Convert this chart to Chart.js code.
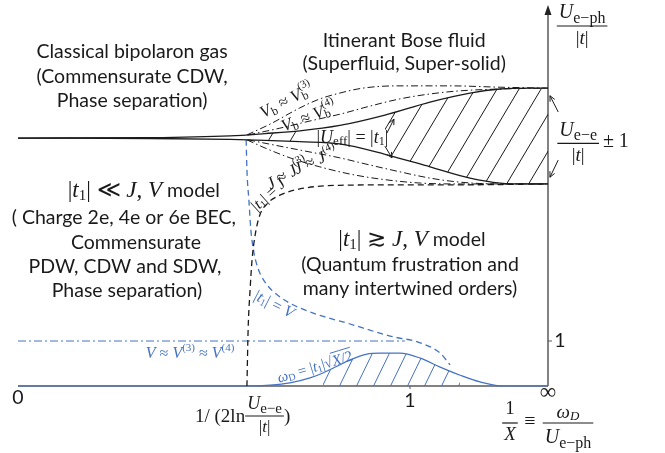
<!DOCTYPE html>
<html>
<head>
<meta charset="utf-8">
<script src="https://cdn.jsdelivr.net/npm/chart.js@4.4.1/dist/chart.umd.min.js"></script>
<style>html,body{margin:0;padding:0;background:#fff}canvas{display:block}</style>
</head>
<body>
<canvas id="c" width="665" height="453"></canvas>
<script>
// x = 1/X (0 .. "infinity"), y = U_e-ph/|t|
var xMax = 1.352
var yMax = 8.467

// solid pair bounding the |U_eff| = |t1| band
var bandX = [0, 0.337, 0.541, 0.630, 0.719, 0.821, 0.936, 1.051, 1.153, 1.230, 1.306, 1.352]
var bandUpper = [5.51, 5.52, 5.56, 5.61, 5.67, 5.79, 6.02, 6.31, 6.51, 6.60, 6.62, 6.62]
var bandLower = [5.51, 5.50, 5.48, 5.46, 5.43, 5.38, 5.15, 4.87, 4.62, 4.51, 4.49, 4.49]
var bandHatch = [[0.630, 0.719], [0.936, 1.352]]

// dash-dot lines
var vb3X = [0.584, 0.643, 0.719, 0.770, 0.821, 0.880, 0.967, 1.102, 1.230, 1.352]
var vb3Y = [5.58, 5.82, 6.18, 6.38, 6.51, 6.62, 6.67, 6.67, 6.64, 6.62]
var vb4X = [0.587, 0.668, 0.745, 0.821, 0.898, 0.974, 1.051, 1.128, 1.230, 1.352]
var vb4Y = [5.58, 5.73, 5.89, 6.04, 6.22, 6.38, 6.49, 6.56, 6.60, 6.62]
var j4X = [0.587, 0.668, 0.745, 0.821, 0.898, 0.974, 1.051, 1.128, 1.230, 1.352]
var j4Y = [5.47, 5.33, 5.20, 5.07, 4.91, 4.76, 4.62, 4.53, 4.49, 4.49]
var j3X = [0.584, 0.630, 0.694, 0.770, 0.847, 0.923, 1.026, 1.128, 1.352]
var j3Y = [5.47, 5.29, 5.07, 4.87, 4.71, 4.60, 4.51, 4.49, 4.49]

// |t1| = J (black dashed)
var tJX = [0.584, 0.587, 0.592, 0.597, 0.605, 0.617, 0.638, 0.668, 0.719, 0.821, 0.974, 1.102, 1.352]
var tJY = [0, 1.24, 2.13, 2.80, 3.36, 3.80, 4.07, 4.24, 4.38, 4.46, 4.47, 4.47, 4.49]

// |t1| = V (blue dashed)
var tVX = [0.582, 0.584, 0.589, 0.594, 0.602, 0.612, 0.630, 0.668, 0.753, 0.839, 0.949, 1.026, 1.077, 1.102]
var tVY = [5.47, 4.80, 4.13, 3.47, 2.96, 2.62, 2.31, 1.98, 1.62, 1.40, 1.11, 0.96, 0.73, 0.47]

// V ~ V(3) ~ V(4) (blue dash-dot)
var vvX = [0, 0.987]
var vvY = [1, 1]

// omega_D = |t1| sqrt(X/2) (blue solid)
var wX = [0, 0.584, 0.643, 0.694, 0.745, 0.778, 0.814, 0.847, 0.890, 0.923, 0.974, 1.026, 1.077, 1.128, 1.179, 1.237, 1.352]
var wY = [0, 0, 0.02, 0.07, 0.18, 0.29, 0.44, 0.58, 0.71, 0.73, 0.73, 0.62, 0.42, 0.24, 0.09, 0, 0]
var wHatch = [0.778, 1.128]

var xTicks = [0, 0.587, 1, xMax]
var xTickText = ['0', '', '1', '\u221e']
var yTicks = [1]

var regionText = [
  ['Classical bipolaron gas', 0.291, 7.42],
  ['(Commensurate CDW,', 0.291, 6.87],
  ['Phase separation)', 0.291, 6.33],
  ['Itinerant Bose fluid', 0.985, 7.67],
  ['(Superfluid, Super-solid)', 0.985, 7.16],
  ['( Charge 2e, 4e or 6e BEC,', 0.270, 3.73],
  ['Commensurate', 0.301, 3.18],
  ['PDW, CDW and SDW,', 0.273, 2.64],
  ['Phase separation)', 0.278, 2.11],
  ['(Quantum frustration and', 1.000, 2.69],
  ['many intertwined orders)', 1.000, 2.16]
]

;(function () {
  'use strict'

  var SANS = 'Lato, "Open Sans", sans-serif'
  var SERIF = '"Liberation Serif", "DejaVu Serif", serif'
  var BLACK = '#1a1a1a'
  var BLUE = '#4472c4'
  var AXIS = '#595959'
  var NONE = 'rgba(0,0,0,0)'

  function pts (xs, ys) {
    return xs.map(function (x, i) { return { x: x, y: ys[i] } })
  }

  function hatch (ctx, color, w, h) {
    var c = document.createElement('canvas')
    c.width = w
    c.height = h
    var g = c.getContext('2d')
    g.strokeStyle = color
    g.lineWidth = 1
    g.beginPath()
    ;[-w, 0, w].forEach(function (o) { g.moveTo(o, h); g.lineTo(o + w, 0) })
    g.stroke()
    return ctx.createPattern(c, 'repeat')
  }

  var ctx = document.getElementById('c').getContext('2d')
  var blackHatch = hatch(ctx, BLACK, 22, 37)
  var blueHatch = hatch(ctx, BLUE, 17, 35)

  function curve (xs, ys, color, dash, extra) {
    return Object.assign({
      data: pts(xs, ys),
      borderColor: color,
      borderWidth: 1.3,
      borderDash: dash || [],
      pointRadius: 0,
      fill: false,
      cubicInterpolationMode: 'monotone',
      clip: 6
    }, extra || {})
  }

  var dashDot = [7, 3, 1.5, 3]

  // text helpers
  function R (t, size, o) {
    o = o || {}
    return { t: t, s: size, f: (o.i ? 'italic ' : '') + size + 'px ' + (o.sans ? SANS : SERIF), dy: o.dy || 0, stay: !!o.stay, over: !!o.over }
  }
  function runsWidth (c, runs) {
    var w = 0
    runs.forEach(function (r) { c.font = r.f; if (!r.stay) w += c.measureText(r.t).width })
    return w
  }
  function drawRuns (c, runs, x, y, o) {
    o = o || {}
    c.save()
    c.translate(x, y)
    if (o.rot) c.rotate(o.rot * Math.PI / 180)
    c.fillStyle = o.color || BLACK
    c.strokeStyle = o.color || BLACK
    c.textBaseline = 'middle'
    var w = runsWidth(c, runs)
    var cx = o.align === 'left' ? 0 : -w / 2
    runs.forEach(function (r) {
      c.font = r.f
      var rw = c.measureText(r.t).width
      c.fillText(r.t, cx, r.dy)
      if (r.over) {
        c.lineWidth = 0.9
        c.beginPath()
        c.moveTo(cx, r.dy - r.s * 0.62)
        c.lineTo(cx + rw, r.dy - r.s * 0.62)
        c.stroke()
      }
      if (!r.stay) cx += rw
    })
    c.restore()
    return w
  }
  function drawFrac (c, num, den, x, y, up, down, color) {
    var w = Math.max(runsWidth(c, num), runsWidth(c, den)) + 4
    drawRuns(c, num, x, y - up, { color: color })
    drawRuns(c, den, x, y + down, { color: color })
    c.save()
    c.strokeStyle = color || BLACK
    c.lineWidth = 1.2
    c.beginPath()
    c.moveTo(x - w / 2, y)
    c.lineTo(x + w / 2, y)
    c.stroke()
    c.restore()
    return w
  }
  function arrow (c, x1, y1, x2, y2, color) {
    var a = Math.atan2(y2 - y1, x2 - x1)
    var L = 6
    c.save()
    c.strokeStyle = color || BLACK
    c.lineWidth = 1
    c.beginPath()
    c.moveTo(x1, y1)
    c.lineTo(x2, y2)
    c.moveTo(x2 - L * Math.cos(a - 0.45), y2 - L * Math.sin(a - 0.45))
    c.lineTo(x2, y2)
    c.lineTo(x2 - L * Math.cos(a + 0.45), y2 - L * Math.sin(a + 0.45))
    c.stroke()
    c.restore()
  }

  function absT1 (size, sub) {
    return [R('|', size), R('t', size, { i: 1 }), R('1', sub, { dy: size * 0.22 }), R('|', size)]
  }
  function U (size, sub, text) {
    return [R('U', size, { i: 1 }), R(text, sub, { dy: size * 0.27 })]
  }
  function T (size) {
    return [R('|', size), R('t', size, { i: 1 }), R('|', size)]
  }

  var annotate = {
    id: 'annotate',
    beforeDraw: function (chart) {
      var c = chart.ctx
      c.save()
      c.fillStyle = '#fff'
      c.fillRect(0, 0, chart.width, chart.height)
      c.restore()
    },
    beforeDatasetsDraw: function (chart) {
      var c = chart.ctx
      var xs = chart.scales.x
      var ys = chart.scales.y
      var a = chart.chartArea
      var x0 = xs.getPixelForValue(0)
      var x1 = xs.getPixelForValue(xMax)
      var y0 = ys.getPixelForValue(0)
      c.save()
      c.strokeStyle = AXIS
      c.lineWidth = 1.5
      c.beginPath()
      c.moveTo(x0, y0)
      c.lineTo(x1, y0)
      c.moveTo(x1, y0)
      c.lineTo(x1, a.top + 8)
      c.stroke()
      c.fillStyle = '#222'
      c.beginPath()
      c.moveTo(x1, a.top)
      c.lineTo(x1 - 3.5, a.top + 10)
      c.lineTo(x1 + 3.5, a.top + 10)
      c.closePath()
      c.fill()
      // ticks
      c.lineWidth = 1
      c.beginPath()
      c.moveTo(xs.getPixelForValue(xTicks[2]), y0)
      c.lineTo(xs.getPixelForValue(xTicks[2]), y0 + 3)
      yTicks.forEach(function (v) {
        c.moveTo(x1, ys.getPixelForValue(v))
        c.lineTo(x1 + 4, ys.getPixelForValue(v))
      })
      c.stroke()
      c.restore()
    },
    afterDatasetsDraw: function (chart) {
      var c = chart.ctx
      var xs = chart.scales.x
      var ys = chart.scales.y
      function X (v) { return xs.getPixelForValue(v) }
      function Y (v) { return ys.getPixelForValue(v) }
      var bottom = Y(0)

      regionText.forEach(function (r) {
        drawRuns(c, [R(r[0], 19.5, { sans: 1 })], X(r[1]), Y(r[2]))
      })

      // model headings
      drawRuns(c, absT1(23, 15).concat([R(' \u226a ', 23), R('J', 23, { i: 1 }), R(', ', 23), R('V', 23, { i: 1 }), R(' model', 19.5, { sans: 1 })]), X(0.321), Y(4.33))
      drawRuns(c, absT1(23, 15).concat([R(' \u2273 ', 23), R('J', 23, { i: 1 }), R(', ', 23), R('V', 23, { i: 1 }), R(' model', 19.5, { sans: 1 })]), X(1.005), Y(3.24))

      // curve labels
      drawRuns(c, [R('V', 17, { i: 1 }), R('b', 12, { dy: 4 }), R(' \u2248 ', 17), R('V', 17, { i: 1 }), R('b', 12, { dy: 4, stay: 1 }), R('(3)', 11, { dy: -7 })], X(0.686), Y(6.33), { rot: -27 })
      drawRuns(c, [R('V', 17, { i: 1 }), R('b', 12, { dy: 4 }), R(' \u2248 ', 17), R('V', 17, { i: 1 }), R('b', 12, { dy: 4, stay: 1 }), R('(4)', 11, { dy: -7 })], X(0.742), Y(5.97), { rot: -21 })
      drawRuns(c, [R('|', 18), R('U', 18, { i: 1 }), R('eff', 13, { dy: 4 }), R('| = ', 18)].concat(absT1(18, 12)), X(0.853), Y(5.51))
      drawRuns(c, [R('J', 17, { i: 1 }), R(' \u2248 ', 17), R('J', 17, { i: 1 }), R('(4)', 11, { dy: -7 })], X(0.760), Y(5.00), { rot: -24 })
      drawRuns(c, [R('J', 17, { i: 1 }), R(' \u2248 ', 17), R('J', 17, { i: 1 }), R('(3)', 11, { dy: -7 })], X(0.688), Y(4.70), { rot: -30 })
      drawRuns(c, absT1(16, 10).concat([R(' = ', 16), R('J', 16, { i: 1 })]), X(0.640), Y(4.24), { rot: -42 })
      drawRuns(c, absT1(16, 10).concat([R(' = ', 16), R('V', 16, { i: 1 })]), X(0.653), Y(1.80), { rot: 27, color: BLUE })
      drawRuns(c, [R('V', 16, { i: 1 }), R(' \u2248 ', 16), R('V', 16, { i: 1 }), R('(3)', 11, { dy: -6 }), R(' \u2248 ', 16), R('V', 16, { i: 1 }), R('(4)', 11, { dy: -6 })], X(0.439), Y(0.71), { color: BLUE })
      drawRuns(c, [R('\u03c9', 15, { i: 1 }), R('D', 10, { dy: 3 }), R(' = ', 15)].concat(absT1(15, 10)).concat([R('\u221a', 15), R('X', 15, { i: 1, over: 1 }), R('/2', 15, { over: 1 })]), X(0.758), Y(0.41), { rot: -17, color: BLUE })

      // arrows
      arrow(c, X(0.941), Y(5.62), X(0.959), Y(5.93))
      arrow(c, X(0.936), Y(5.33), X(0.954), Y(5.07))
      arrow(c, X(1.378), Y(6.09), X(1.357), Y(6.45))
      arrow(c, X(1.378), Y(5.02), X(1.357), Y(4.64))

      // right-hand axis labels
      drawFrac(c, U(20, 16, 'e\u2212ph'), T(19), X(1.439), Y(8.0), 13, 13)
      drawFrac(c, U(20, 16, 'e\u2212e'), T(19), X(1.429), Y(5.39), 13, 13)
      drawRuns(c, [R('\u00b1 1', 20)], X(1.492), Y(5.39) - 2, { align: 'left' })
      yTicks.forEach(function (v) {
        drawRuns(c, [R(String(v), 19.5, { sans: 1 })], X(xMax) + 12, Y(v))
      })

      // bottom axis labels
      drawRuns(c, [R(xTickText[0], 19.5, { sans: 1 })], X(xTicks[0]), bottom + 12)
      drawRuns(c, [R(xTickText[2], 19.5, { sans: 1 })], X(xTicks[2]), bottom + 15)
      drawRuns(c, [R(xTickText[3], 23)], X(xTicks[3]), bottom + 7)

      // 1 / (2 ln U_e-e/|t|)
      var p1 = [R('1/ (2ln', 19)]
      var p3 = [R(')', 19)]
      var num = U(18, 15, 'e\u2212e')
      var den = T(17)
      var w1 = runsWidth(c, p1)
      var wf = Math.max(runsWidth(c, num), runsWidth(c, den)) + 4
      var w3 = runsWidth(c, p3)
      var left = X(0.573) - (w1 + wf + w3) / 2
      drawRuns(c, p1, left, bottom + 31, { align: 'left' })
      drawFrac(c, num, den, left + w1 + wf / 2, bottom + 30, 12, 12)
      drawRuns(c, p3, left + w1 + wf, bottom + 31, { align: 'left' })

      // 1/X = omega_D / U_e-ph
      drawFrac(c, [R('1', 19)], [R('X', 19, { i: 1 })], X(1.255), bottom + 37, 14, 12)
      drawRuns(c, [R('\u2261', 20)], X(1.306), bottom + 36)
      drawFrac(c, [R('\u03c9', 19, { i: 1 }), R('D', 13, { i: 1, dy: 4 })], U(20, 16, 'e\u2212ph'), X(1.403), bottom + 37, 10, 15)
    }
  }

  function inRanges (ranges, a, b) {
    return ranges.some(function (r) { return a >= r[0] - 1e-6 && b <= r[1] + 1e-6 })
  }

  // eslint-disable-next-line no-unused-vars
  var chart = new Chart(ctx, {
    type: 'line',
    data: {
      datasets: [
        curve(bandX, bandUpper, BLACK),
        curve(bandX, bandLower, BLACK, [], {
          fill: { target: 0 },
          backgroundColor: NONE,
          segment: {
            backgroundColor: function (s) {
              return inRanges(bandHatch, s.p0.parsed.x, s.p1.parsed.x) ? blackHatch : NONE
            }
          }
        }),
        curve(vb3X, vb3Y, BLACK, dashDot, { borderWidth: 1 }),
        curve(vb4X, vb4Y, BLACK, dashDot, { borderWidth: 1 }),
        curve(j4X, j4Y, BLACK, dashDot, { borderWidth: 1 }),
        curve(j3X, j3Y, BLACK, dashDot, { borderWidth: 1 }),
        curve(tJX, tJY, BLACK, [6, 4]),
        curve(tVX, tVY, BLUE, [6, 4]),
        curve(vvX, vvY, BLUE, [8, 3, 2, 3], { borderWidth: 1 }),
        curve(wX, wY, BLUE, [], {
          borderWidth: 1.2,
          fill: 'origin',
          backgroundColor: NONE,
          segment: {
            backgroundColor: function (s) {
              return inRanges([wHatch], s.p0.parsed.x, s.p1.parsed.x) ? blueHatch : NONE
            }
          }
        })
      ]
    },
    options: {
      responsive: false,
      animation: false,
      layout: { padding: { left: 18, right: 117, top: 5, bottom: 67 } },
      scales: {
        x: { type: 'linear', min: 0, max: xMax, display: false },
        y: { type: 'linear', min: 0, max: yMax, display: false }
      },
      plugins: { legend: { display: false }, tooltip: { enabled: false } }
    },
    plugins: [annotate]
  })
}())
</script>
</body>
</html>
